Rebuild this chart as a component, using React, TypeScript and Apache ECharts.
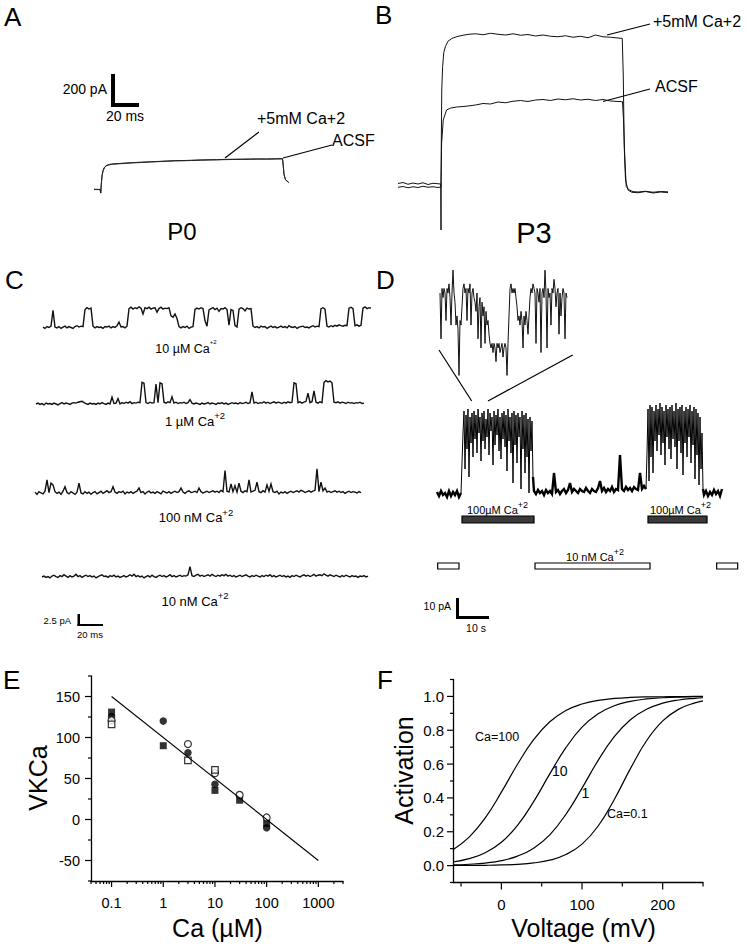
import React, { useEffect, useRef } from "react";
import * as echarts from "echarts";

const FONT = '"Liberation Sans", Arial, Helvetica, sans-serif';

// ---------------- Panel A (P0): time (ms), current (pA)
const aTime = [0, 2, 4.8, 5.4, 5.8, 6.4, 7.2, 8.4, 10, 12.5, 15, 20, 25, 31, 38, 45, 52, 58, 65, 72, 78, 85, 92, 98, 105, 111, 118, 125, 131, 138, 145, 150.8, 151.4, 152, 153.2, 155.8];
const aCa5 = [2, -2, 0, -28, 40, 110, 150, 178, 192, 200, 204, 207, 211, 214, 218, 221, 224, 227, 230, 231, 233, 236, 237, 238, 240, 241, 242, 243, 244, 243, 245, 246, 190, 120, 78, 56];
const aAcsf = [-2, 1, -1, -30, 36, 105, 146, 175, 189, 197, 201, 205, 208, 212, 215, 219, 222, 225, 228, 229, 231, 233, 235, 236, 238, 239, 240, 241, 242, 242, 243, 244, 188, 118, 76, 54];

// ---------------- Panel B (P3)
const bCaTime = [0, 4, 8, 12, 16, 20, 24, 28, 32, 34.2, 34.4, 34.6, 35.0, 35.7, 36.6, 38, 40, 43, 47, 52, 56, 62, 68, 74, 80, 86, 92, 98, 104, 110, 116, 122, 128, 134, 140, 146, 152, 158, 164, 170, 176, 179.4, 180.2, 181, 182, 184, 187, 192, 198, 204, 210, 216];
const bCa5 = [12, 20, 6, 16, 8, 18, 4, 14, 10, 8, -360, 300, 760, 946, 1060, 1110, 1150, 1172, 1187, 1198, 1205, 1210, 1202, 1214, 1206, 1200, 1210, 1198, 1204, 1192, 1200, 1190, 1186, 1194, 1182, 1190, 1178, 1200, 1186, 1182, 1176, 1173, 880, 300, 40, -40, -58, -62, -52, -64, -56, -60];
const bAcsfTime = [0, 4, 8, 12, 16, 20, 24, 28, 32, 34.3, 34.9, 36.2, 38.8, 42, 47, 52, 56, 62, 68, 74, 80, 86, 92, 98, 104, 110, 116, 122, 128, 134, 140, 146, 152, 158, 164, 170, 176, 179.6, 180.4, 181.5, 182.6, 185, 188, 192, 198, 204, 210, 216];
const bAcsf = [-18, -12, -22, -14, -20, -10, -18, -14, -20, -16, 336, 520, 600, 615, 624, 628, 632, 640, 652, 648, 664, 658, 670, 676, 668, 680, 684, 676, 688, 682, 690, 680, 686, 676, 684, 672, 668, 666, 520, 200, -13, -40, -53, -56, -50, -58, -52, -55];

// ---------------- Panel C: single-channel currents (pA), one sample every 1.5 ms
const cDt = 1.5;
const c10uM = [
  0.1, -0.2, 0.2, 0, 0.3, 3.8, 0.1, -0.1, 0.2, -0.2,
  0.1, 0.3, -0.1, 0.2, 0, -0.2, 0.2, 0.4, 0.1, 0.3,
  0.2, 4.0, 4.4, 4.1, 4.3, 0.3, -0.1, 0.2, 0, 0.1,
  -0.2, 0.2, 0.1, 0.3, -0.1, 0.2, 0, 0.4, 1.2, 0.1,
  0.2, -0.1, 0.3, 4.2, 4.5, 4.1, 4.4, 4.2, 4.6, 4.3,
  3.0, 4.4, 4.2, 4.5, 4.1, 4.3, 4.4, 3.4, 4.2, 4.5,
  4.1, 4.3, 4.2, 4.4, 2.6, 2.3, 3.0, 2.0, 0.2, -0.1,
  0.2, 0, 0.3, -0.2, 0.1, 0.2, 4.0, 4.3, 4.1, 4.4,
  4.2, 1.5, 0.3, 3.9, 4.2, 4.4, 4.0, 4.3, 3.6, 4.2,
  4.1, 4.4, 4.0, 0.5, 4.0, 3.8, 0.4, 0.1, 4.1, 4.4,
  4.2, 3.7, 4.3, 4.1, 4.2, 0.3, 0, 0.2, -0.1, 0.3,
  0.1, 0.2, -0.2, 0.1, 0.3, 0, 0.2, -0.1, 0.1, 0.3,
  0, 0.2, -0.1, 0.4, 0.1, 0, 0.2, -0.2, 0.1, 0.2,
  0.3, 0, 0.1, -0.1, 0.2, 0.4, 0.1, 0.3, 0.2, 4.2,
  4.4, 4.1, 0.3, 0.1, 0.4, 0.2, 0.5, 0.3, 0.6, 0.4,
  0.3, 0.5, 0.4, 4.3, 4.5, 4.2, 0.4, 0.6, 0.3, 0.5,
  4.3, 4.6, 4.2, 4.4, 4.3,
];
const c1uM = [
  0, 0.2, -0.1, 0.1, -0.2, 0.2, 0, 0.1, -0.1, 0.2,
  0, -0.2, 0.1, 0.3, 0, 0.2, 0.1, -0.1, 0.2, 0.3,
  0.2, 0.4, 0.5, 0.6, 0.3, 0.1, -0.1, 0.2, 0, 0.1,
  -0.1, 0.2, 0, 0.3, 0.1, -0.1, 0.2, 0, 1.5, 0.1,
  0.2, 1.2, 0, 0.3, 0.1, 0.4, 0.2, 0.5, 0.1, 0.3,
  0.2, 0.4, 0.3, 4.8, 4.6, 0.3, 0.1, 0.4, 0.2, 0.3,
  4.4, 0.3, 4.7, 4.5, 0.4, 0.2, 0.5, 0.3, 1.6, 0.2,
  0.4, 0.1, 0.3, 0.2, 0.4, 0.1, 0.3, 1.0, 0.2, 0,
  0.2, 0.1, -0.1, 0.2, 0, 0.1, 0.3, 0, 0.2, 0.1,
  -0.1, 0.2, 0.1, 0.3, 0, 0.2, -0.1, 0.1, 0.3, 0.1,
  0.2, 0, 0.3, 0.1, 0.2, 0.4, 0.1, 0.3, 2.7, 0.2,
  0.4, 0.1, 0.3, 0.2, 0.5, 0.2, 0.4, 0.1, 0.3, 0.5,
  0.2, 0.4, 0.3, 0.1, 0.4, 0.2, 0.5, 0.3, 0.4, 4.7,
  4.5, 0.3, 0.5, 0.2, 0.4, 0.6, 2.4, 0.3, 0.5, 2.9,
  0.4, 0.2, 0.5, 0.3, 4.8, 5.2, 4.9, 5.1, 4.7, 0.4,
  0.3, 0.5, 0.2, 0.4, 0.3, 0.1, 0.4, 0.2, 0.3, 0.1,
  0.3, 0.2, 0.4, 0.1, 0.2,
];
const c100nM = [
  0.2, -0.3, 0.3, 0, -0.2, 0.4, 2.9, 0.1, 2.2, 1.8,
  0.3, -0.1, 0.2, -0.3, 0.4, 1.4, 0.1, -0.2, 0.3, 0,
  -0.3, 0.2, 2.2, 0, -0.2, 0.3, -0.1, 0.2, -0.3, 0.1,
  0.3, -0.2, 0.1, 0.4, -0.1, 0.2, 0.5, 0.1, 0.3, 1.4,
  0.2, -0.1, 0.3, 0.1, 0.4, -0.2, 0.2, 0, 0.3, -0.1,
  0.2, 0.4, 1.1, 0.1, 0.3, -0.2, 0.2, 0.4, 0, 0.2,
  -0.1, 0.3, 0.1, -0.2, 0.4, 0.2, 0, 0.3, -0.1, 0.2,
  0.4, 0.1, 0.3, 1.1, 0.2, -0.1, 0.3, 0.5, 0.1, 0.2,
  0.4, 0.1, 1.1, 0.3, 0, 0.2, 0.4, 0.1, 0.3, 0.5,
  0.2, 0.4, 0.1, 0.6, 0.3, 5.0, 0.4, 0.2, 2.0, 0.3,
  1.6, 0.2, 2.2, 0.4, 0.1, 0.5, 0.3, 2.9, 0.2, 0.4,
  0.6, 2.4, 0.3, 0.1, 0.5, 0.2, 1.8, 0.4, 2.0, 0.3,
  0.1, 0.4, -0.2, 0.2, 0, 0.3, -0.1, 0.2, 0.4, 0.1,
  0.3, 0.5, 0.2, 0.6, 0.4, 0.1, 0.3, 0.5, 0.2, 0.4,
  0.6, 5.4, 0.3, 2.4, 0.5, 1.1, 0.2, 0.4, 0.1, 0.3,
  0.5, 0.2, 0.4, 0.1, 0.3, -0.1, 0.2, 0.4, 0.1, 0.3,
  0.2, 0, 0.3, 0.1,
];
const c10nM = [
  0, 0.2, -0.1, 0.1, -0.2, 0.2, 0.4, 0.1, -0.1, 0.3,
  0.1, 0.5, 0.2, -0.1, 0.3, 0, 0.2, 0.6, 0.1, 0.3,
  -0.1, 0.2, 0.4, 0.1, 0.3, 0, 0.2, -0.2, 0.1, 0.3,
  0.5, 0.1, 0.2, -0.1, 0.3, 0.1, 0.4, 0, 0.2, -0.1,
  0.1, 0.3, 0, 0.2, 0.5, 0.2, 0.6, 0.1, 0.3, 0,
  0.2, -0.2, 0.1, 0.3, 0, 0.4, 0.1, -0.1, 0.2, 0.4,
  0.1, 0.3, 0, 0.2, 0.5, 0.1, 0.3, 0, 0.2, 0.4,
  0.1, 0.3, 0.2, 0.5, 2.3, 0.3, 0.1, 0.4, 0.6, 0.2,
  0.4, 0.1, 0.3, 0.5, 0.2, 0.6, 0.3, 0.1, 0.4, 0.2,
  0.5, 0.3, 0.6, 0.2, 0.4, 0.1, 0.3, 0, 0.2, 0.4,
  0.1, 0.3, 0.5, 0.2, 0, 0.3, 0.1, 0.4, 0.2, 0,
  0.3, 0.1, 0.4, 0.2, 0.5, 0.1, 0.3, 0, 0.2, 0.4,
  0.1, 0.3, 0, 0.2, -0.1, 0.3, 0.1, 0.4, 0.2, 0,
  0.3, 0.5, 0.2, 0.4, 0.1, 0.3, 0.6, 0.2, 0.4, 0.5,
  0.3, 0.7, 0.4, 0.2, 0.5, 0.3, 0.1, 0.4, 0.2, 0,
  0.3, 0.1, 0.4, 0.2, 0, 0.3, 0.1, 0.2, -0.1, 0.2,
  0.1, 0.3, 0, 0.2,
];

// ---------------- Panel D: inset (expanded, 1 ms per sample) and full record (s, pA)
const dInset = [
  19, 9, 20, 18, 20, 19, 13, 20, 19, 21,
  18, 12, 19, 24, 19, 17, 12, 14, 11, 1,
  13, 12, 16, 20, 21, 19, 20, 13, 20, 19,
  21, 12, 19, 20, 18, 17, 15, 19, 9, 16,
  18, 7, 17, 14, 16, 8, 15, 12, 13, 10,
  8, 7, 8, 6, 8, 7, 4, 8, 7, 8,
  6, 7, 8, 5, 7, 8, 7, 1, 8, 14,
  20, 21, 19, 20, 19, 20, 18, 16, 13, 14,
  12, 15, 13, 7, 14, 12, 15, 13, 10, 14,
  18, 20, 19, 21, 20, 19, 8, 20, 19, 17,
  20, 6, 19, 20, 18, 24, 19, 7, 20, 18,
  19, 12, 20, 19, 22, 20, 16, 19, 20, 10,
  19, 14, 18, 20, 19, 9, 19, 18,
];
const dBaseline1 = [0.5, -1.5, 1, -1, 0, -2, 1, -1.5, 0.5, -1, 1, -2, 0];
const dBurst1 = [
  30, 41, 12, 39, 22, 42, 8, 38, 25, 40,
  18, 41, 27, 39, 20, 42, 30, 38, 16, 40,
  26, 41, 22, 37, 28, 42, 19, 40, 31, 38,
  14, 41, 24, 39, 29, 42, 21, 38, 17, 40,
  27, 41, 23, 39, 11, 42, 26, 38, 20, 40,
  5, 41, 24, 39, 15, 40, 28, 38, 2, 41,
  22, 39, 10, 40, 18, 37, 0, 38, 21, 36,
  8,
];
const dBetween = [
  1, -0.5, 1.5, 0, 1, -1, 1.5, 0, 1, -0.5,
  10, 0.5, 1.5, -0.5, 1, 2, 0, 1.5, 5, 0.5,
  2, 1, 0, 2, 1, 0.5, 2.5, 1, 0, 2,
  1, 0.5, 2.5, 6, 1, 2.5, 0.5, 2, 1, 3,
  0.5, 2, 1.5, 19, 2, 1, 3, 1.5, 2.5, 1,
  3, 2, 1.5, 10, 2, 3.5, 2,
];
const dBurst2 = [
  20, 42, 6, 44, 18, 43, 10, 41, 26, 44,
  21, 42, 29, 45, 19, 43, 25, 41, 14, 44,
  28, 42, 22, 43, 17, 44, 27, 41, 23, 45,
  12, 42, 26, 43, 20, 44, 9, 41, 25, 43,
  18, 42, 28, 44, 15, 41, 24, 43, 7, 42,
  19, 40, 4, 38, 12, 30, 2,
];
const dBaseline2 = [-1, 1, -1.5, 0.5, -1, 1.5, -0.5, 1, -1.5, 2];
const dSegmentStart = [0, 7.8, 29.1, 63.0, 80.1]; // s
const dSegmentStep = [0.6, 0.3, 0.6, 0.3, 0.6]; // s
const dHighCaBars = [[7.5, 29.1], [63.3, 81.0]]; // 100 µM Ca application (s)
const dLowCaBars = [[0.2, 6.6], [29.4, 63.9], [83.9, 90.2]]; // 10 nM Ca application (s)

// ---------------- Panel E: VKCa vs Ca (µM)
const eFilledSquare = [[0.1, 131], [1, 90], [10, 35.5], [30, 23.5], [100, -5]];
const eFilledCircle = [[0.1, 125.5], [1, 120], [3, 81.5], [10, 43], [100, -10]];
const eOpenCircle = [[0.1, 121], [3, 92], [10, 56.5], [30, 30], [100, 2.5]];
const eOpenSquare = [[0.1, 116], [3, 72], [10, 60.5]];
const eFit = [[0.1, 150], [1000, -50]];
const eYTicks = [-75, -50, -25, 0, 25, 50, 75, 100, 125, 150, 175];
const eXMajorTicks = [0.1, 1, 10, 100, 1000];
const eXMinorTicks = [0.04, 0.05, 0.06, 0.07, 0.08, 0.09, 0.2, 0.3, 0.4, 0.5, 0.6, 0.7, 0.8, 0.9, 2, 3, 4, 5, 6, 7, 8, 9, 20, 30, 40, 50, 60, 70, 80, 90, 200, 300, 400, 500, 600, 700, 800, 900, 2000, 3000];

// ---------------- Panel F: activation vs voltage (mV)
const fVoltage = [-60, -40, -20, 0, 20, 40, 60, 80, 100, 120, 140, 160, 180, 200, 220, 240, 250];
const fCa100 = [0.094, 0.168, 0.282, 0.434, 0.599, 0.744, 0.85, 0.917, 0.955, 0.977, 0.988, 0.994, 0.997, 0.998, 0.999, 1.0, 1.0];
const fCa10 = [0.021, 0.041, 0.076, 0.138, 0.238, 0.378, 0.542, 0.697, 0.818, 0.897, 0.945, 0.971, 0.985, 0.992, 0.996, 0.998, 0.999];
const fCa1 = [0.004, 0.008, 0.015, 0.029, 0.056, 0.103, 0.182, 0.303, 0.458, 0.622, 0.762, 0.862, 0.924, 0.96, 0.979, 0.989, 0.992];
const fCa01 = [0.0004, 0.0008, 0.0017, 0.0036, 0.0075, 0.0156, 0.032, 0.065, 0.127, 0.234, 0.391, 0.573, 0.738, 0.855, 0.925, 0.962, 0.974];
const fXTicks = [-50, 0, 50, 100, 150, 200, 250];
const fYTicks = [-0.1, 0, 0.1, 0.2, 0.3, 0.4, 0.5, 0.6, 0.7, 0.8, 0.9, 1.0, 1.1];

// ---------------- helpers
const zip = (xs: number[], ys: number[]) => xs.map((x, i) => [x, ys[i]]);
const sampled = (vals: number[], dt: number, t0 = 0) => vals.map((v, i) => [+(t0 + i * dt).toFixed(3), v]);

const hiddenAxis = (gridIndex: number, min: number, max: number) => ({
  gridIndex, type: "value", min, max, show: false, splitLine: { show: false },
});

const trace = (idx: number, data: any[], color = "#000", width = 1, extra: any = {}) => ({
  type: "line", xAxisIndex: idx, yAxisIndex: idx, data, showSymbol: false, symbol: "none",
  lineStyle: { color, width, join: "miter" }, silent: true, animation: false, ...extra,
});

const tickSeries = (idx: number, data: number[][], dir: "left" | "down") => ({
  type: "custom", xAxisIndex: idx, yAxisIndex: idx, clip: false, silent: true, data,
  renderItem: (_p: any, api: any) => {
    const pt = api.coord([api.value(0), api.value(1)]);
    const len = api.value(2);
    const shape = dir === "left"
      ? { x1: pt[0] - len, y1: pt[1], x2: pt[0], y2: pt[1] }
      : { x1: pt[0], y1: pt[1], x2: pt[0], y2: pt[1] + len };
    return { type: "line", shape, style: { stroke: "#000", lineWidth: 1.2 } };
  },
});

const barSeries = (idx: number, data: number[][], offset: number, height: number, fill: string) => ({
  type: "custom", xAxisIndex: idx, yAxisIndex: idx, clip: false, silent: true, data,
  renderItem: (_p: any, api: any) => {
    const a = api.coord([api.value(0), 0]);
    const b = api.coord([api.value(1), 0]);
    return {
      type: "rect",
      shape: { x: a[0], y: a[1] + offset, width: b[0] - a[0], height },
      style: { fill, stroke: "#000", lineWidth: 1.2 },
    };
  },
});

const txt = (text: string, x: number, y: number, fontSize: number, align = "left", extra: any = {}) => ({
  type: "text", x, y, silent: true, ...extra,
  style: { text, fontSize, fontFamily: FONT, fill: "#000", align, verticalAlign: "middle" },
});
const supTxt = (main: string, sup: string, x: number, y: number, fs: number, sfs: number) => ({
  type: "text", x, y, silent: true,
  style: {
    text: `{n|${main}}{s|${sup}}`, align: "center", verticalAlign: "middle", fontFamily: FONT, fill: "#000",
    rich: {
      n: { fontSize: fs, lineHeight: fs + 8, fontFamily: FONT, fill: "#000" },
      s: { fontSize: sfs, lineHeight: sfs, verticalAlign: "top", fontFamily: FONT, fill: "#000" },
    },
  },
});
const rectG = (x: number, y: number, w: number, h: number) => ({
  type: "rect", silent: true, shape: { x, y, width: w, height: h }, style: { fill: "#000" },
});
const seg = (x1: number, y1: number, x2: number, y2: number, w = 1.2) => ({
  type: "line", silent: true, shape: { x1, y1, x2, y2 }, style: { stroke: "#000", lineWidth: w },
});

const logFmt = (v: number) => {
  const l = Math.log10(v);
  const r = Math.round(l);
  if (Math.abs(l - r) > 1e-6 || r < -1 || r > 3) return "";
  return r < 0 ? v.toFixed(-r) : String(Math.round(v));
};

const axisLineStyle = { show: true, onZero: false, lineStyle: { color: "#000", width: 1.3 } };
const labelStyle = (fontSize: number, margin: number, formatter: any) => ({
  color: "#000", fontSize, fontFamily: FONT, margin, formatter,
});

function buildOption() {
  const dSegments = [dBaseline1, dBurst1, dBetween, dBurst2, dBaseline2];
  const dSegWidth = [2.4, 1, 2.4, 1, 2.4];
  // each segment keeps the previous recorded sample so the record stays continuous
  const dSegData = dSegments.map((vals, k) => {
    const pts = sampled(vals, dSegmentStep[k], dSegmentStart[k]);
    if (k > 0) {
      const prev = dSegments[k - 1];
      const last = [+(dSegmentStart[k - 1] + (prev.length - 1) * dSegmentStep[k - 1]).toFixed(3), prev[prev.length - 1]];
      pts.unshift(last);
    }
    return pts;
  });

  const grid = [
    { left: 94, top: 150, width: 195, height: 50 }, // 0 A
    { left: 398, top: 20, width: 270, height: 220 }, // 1 B
    { left: 43, top: 300.5, width: 328, height: 36 }, // 2 C 10uM
    { left: 36, top: 377, width: 328, height: 36 }, // 3 C 1uM
    { left: 35, top: 466, width: 326, height: 36 }, // 4 C 100nM
    { left: 42, top: 550, width: 326, height: 36 }, // 5 C 10nM
    { left: 440, top: 261, width: 127, height: 119 }, // 6 D inset
    { left: 437, top: 400, width: 301, height: 100 }, // 7 D main
    { left: 91, top: 676, width: 252, height: 205 }, // 8 E
    { left: 453, top: 679.5, width: 250, height: 203 }, // 9 F
  ];

  const xAxis: any[] = [
    hiddenAxis(0, 0, 156),
    hiddenAxis(1, 0, 216),
    hiddenAxis(2, 0, (c10uM.length - 1) * cDt),
    hiddenAxis(3, 0, (c1uM.length - 1) * cDt),
    hiddenAxis(4, 0, (c100nM.length - 1) * cDt),
    hiddenAxis(5, 0, (c10nM.length - 1) * cDt),
    hiddenAxis(6, 0, dInset.length - 1),
    hiddenAxis(7, 0, 90.3),
    {
      gridIndex: 8, type: "log", logBase: 10, min: 0.04, max: 3000,
      axisLine: axisLineStyle, axisTick: { show: false }, minorTick: { show: false },
      splitLine: { show: false }, axisLabel: labelStyle(14.5, 14, logFmt),
    },
    {
      gridIndex: 9, type: "value", min: -60, max: 250, interval: 10,
      axisLine: axisLineStyle, axisTick: { show: false }, splitLine: { show: false },
      axisLabel: labelStyle(15, 14, (v: number) => (Math.round(v) % 100 === 0 ? String(Math.round(v)) : "")),
    },
  ];
  const yAxis: any[] = [
    hiddenAxis(0, -85, 315),
    hiddenAxis(1, -440, 1320),
    hiddenAxis(2, -2, 6),
    hiddenAxis(3, -2, 6),
    hiddenAxis(4, -2, 6),
    hiddenAxis(5, -2, 6),
    hiddenAxis(6, 0, 26),
    hiddenAxis(7, -3.5, 46.5),
    {
      gridIndex: 8, type: "value", min: -75, max: 175, interval: 25,
      axisLine: axisLineStyle, axisTick: { show: false }, splitLine: { show: false },
      axisLabel: labelStyle(14.5, 11, (v: number) => (Math.round(v) % 50 === 0 ? String(Math.round(v)) : "")),
    },
    {
      gridIndex: 9, type: "value", min: -0.1, max: 1.1, interval: 0.1,
      axisLine: axisLineStyle, axisTick: { show: false }, splitLine: { show: false },
      axisLabel: labelStyle(15, 9, (v: number) => {
        const r = Math.round(v * 10);
        return r >= 0 && r % 2 === 0 ? (r / 10).toFixed(1) : "";
      }),
    },
  ];

  const openStyle = { color: "#fff", borderColor: "#000", borderWidth: 1.2 };
  const smoothCurve = { smooth: 0.45 };
  const series: any[] = [
    trace(0, zip(aTime, aAcsf), "#222", 1),
    trace(0, zip(aTime, aCa5), "#222", 1),
    trace(1, zip(bAcsfTime, bAcsf), "#111", 1),
    trace(1, zip(bCaTime, bCa5), "#111", 1),
    trace(2, sampled(c10uM, cDt), "#111", 1.4),
    trace(3, sampled(c1uM, cDt), "#111", 1.4),
    trace(4, sampled(c100nM, cDt), "#111", 1.4),
    trace(5, sampled(c10nM, cDt), "#111", 1.4),
    trace(6, sampled(dInset, 1), "#111", 1),
    ...dSegData.map((pts, k) => trace(7, pts, "#000", dSegWidth[k])),
    barSeries(7, dHighCaBars, 23, 7, "#3a3a3a"),
    barSeries(7, dLowCaBars, 70, 6, "#fff"),
    // E
    trace(8, eFit, "#000", 1.1),
    { type: "scatter", xAxisIndex: 8, yAxisIndex: 8, data: eFilledSquare, symbol: "rect", symbolSize: 7, itemStyle: { color: "#000" }, silent: true },
    { type: "scatter", xAxisIndex: 8, yAxisIndex: 8, data: eFilledCircle, symbol: "circle", symbolSize: 7.5, itemStyle: { color: "#000" }, silent: true },
    { type: "scatter", xAxisIndex: 8, yAxisIndex: 8, data: eOpenCircle, symbol: "circle", symbolSize: 7, itemStyle: openStyle, silent: true },
    { type: "scatter", xAxisIndex: 8, yAxisIndex: 8, data: eOpenSquare, symbol: "rect", symbolSize: 6.5, itemStyle: openStyle, silent: true },
    tickSeries(8, eYTicks.map((v) => [0.04, v, v % 50 === 0 ? 6 : 3]), "left"),
    tickSeries(8, [...eXMajorTicks.map((v) => [v, -75, 6]), ...eXMinorTicks.map((v) => [v, -75, 3])], "down"),
    // F
    trace(9, zip(fVoltage, fCa100), "#000", 1.2, smoothCurve),
    trace(9, zip(fVoltage, fCa10), "#000", 1.2, smoothCurve),
    trace(9, zip(fVoltage, fCa1), "#000", 1.2, smoothCurve),
    trace(9, zip(fVoltage, fCa01), "#000", 1.2, smoothCurve),
    tickSeries(9, fYTicks.map((v) => [-60, v, Math.round(v * 10) % 2 === 0 ? 6 : 3]), "left"),
    tickSeries(9, fXTicks.map((v) => [v, -0.1, v % 100 === 0 ? 7 : 4]), "down"),
  ];

  const graphic: any[] = [
    // panel letters
    txt("A", 4, 16.5, 26), txt("B", 375, 15, 26), txt("C", 5, 280, 26),
    txt("D", 376, 280, 26), txt("E", 3, 680, 26), txt("F", 377, 680, 26),
    // A
    rectG(111, 74, 4, 33), rectG(111, 103, 28, 4),
    txt("200 pA", 107, 89, 14, "right"), txt("20 ms", 125, 115.5, 14, "center"),
    txt("+5mM Ca+2", 257, 118.5, 16), seg(259, 132, 225, 158),
    txt("ACSF", 332, 140, 16), seg(332, 145, 283, 158),
    txt("P0", 182, 231.5, 24, "center"),
    // B
    txt("+5mM Ca+2", 653, 21.5, 16), seg(650, 24, 607, 35),
    txt("ACSF", 655, 86.5, 16), seg(650, 89, 603, 101.5),
    txt("P3", 534, 232.5, 29, "center"),
    // C
    supTxt("10 µM Ca", "+2", 186, 349, 12.5, 6),
    supTxt("1 µM Ca", "+2", 195, 421, 13, 9.5),
    supTxt("100 nM Ca", "+2", 196, 517.5, 13, 9.5),
    supTxt("10 nM Ca", "+2", 195, 601, 13, 9.5),
    rectG(77.5, 614, 2.5, 12), rectG(77.5, 624, 25.5, 2),
    txt("2.5 pA", 71, 620, 9.5, "right"), txt("20 ms", 90, 634, 9.5, "center"),
    // D
    seg(439, 350, 471.7, 401), seg(488, 401, 572.7, 355),
    supTxt("100µM Ca", "+2", 497.5, 510, 11, 9),
    supTxt("100µM Ca", "+2", 680.5, 510, 11, 9),
    supTxt("10 nM Ca", "+2", 595, 557, 11, 9),
    rectG(456, 598, 3, 21), rectG(456, 616, 33, 3),
    txt("10 pA", 451, 606, 10.5, "right"), txt("10 s", 476, 628, 10.5, "center"),
    // E
    txt("VKCa", 37.5, 778, 25, "center", { rotation: Math.PI / 2 }),
    txt("Ca (µM)", 217.5, 928, 25, "center"),
    // F
    txt("Activation", 404, 770.5, 25, "center", { rotation: Math.PI / 2 }),
    txt("Voltage (mV)", 583.5, 927.5, 25, "center"),
    txt("Ca=100", 475, 737, 12.5), txt("10", 552, 771, 14), txt("1", 585.5, 793, 14, "center"),
    txt("Ca=0.1", 607, 814, 12.5),
  ];

  return {
    animation: false,
    backgroundColor: "#fff",
    textStyle: { fontFamily: FONT },
    grid, xAxis, yAxis, series, graphic,
  };
}

export default function App() {
  const ref = useRef<HTMLDivElement>(null);
  useEffect(() => {
    if (!ref.current) return;
    const chart = echarts.init(ref.current, null, { renderer: "svg" });
    chart.setOption(buildOption() as any);
    return () => chart.dispose();
  }, []);
  return (
    <div
      ref={ref}
      style={{ position: "absolute", left: 0, top: 0, width: 747, height: 946, background: "#fff" }}
    />
  );
}
